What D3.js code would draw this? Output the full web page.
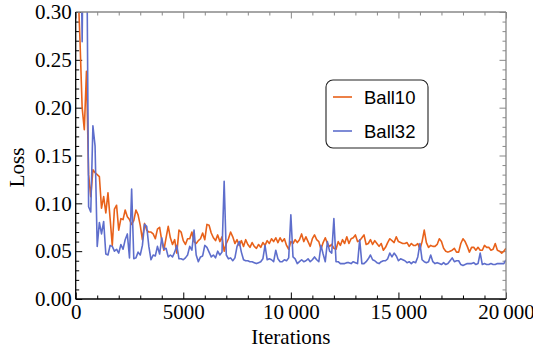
<!DOCTYPE html>
<html>
<head>
<meta charset="utf-8">
<script src="https://cdn.jsdelivr.net/npm/d3@7"></script>
<style>
  body { margin: 0; background: #fff; }
  svg { display: block; }
</style>
</head>
<body>
<div id="chart"></div>
<script>
// iterations between two samples of the loss curves
const step = 100;

const seriesNames = ['Ball10', 'Ball32'];

// loss values, one every `step` iterations
const ball10 = [
  0.45, 0.33, 0.27, 0.20, 0.177, 0.238, 0.13, 0.107, 0.135, 0.132,
  0.130, 0.128, 0.095, 0.107, 0.090, 0.111, 0.084, 0.056, 0.094, 0.098,
  0.072, 0.084, 0.083, 0.093, 0.086, 0.083, 0.078, 0.082, 0.093, 0.088,
  0.077, 0.062, 0.079, 0.072, 0.070, 0.070, 0.068, 0.063, 0.073, 0.075,
  0.061, 0.051, 0.064, 0.076, 0.064, 0.057, 0.062, 0.048, 0.072, 0.070,
  0.061, 0.057, 0.063, 0.063, 0.070, 0.060, 0.058, 0.061, 0.063, 0.069,
  0.062, 0.078, 0.077, 0.069, 0.064, 0.061, 0.067, 0.060, 0.065, 0.050,
  0.058, 0.063, 0.070, 0.065, 0.058, 0.062, 0.056, 0.061, 0.055, 0.062,
  0.057, 0.054, 0.059, 0.055, 0.053, 0.057, 0.054, 0.059, 0.056, 0.061,
  0.058, 0.063, 0.060, 0.064, 0.059, 0.064, 0.060, 0.063, 0.056, 0.052,
  0.060, 0.058, 0.062, 0.059, 0.062, 0.068, 0.060, 0.065, 0.060, 0.055,
  0.063, 0.067, 0.062, 0.060, 0.052, 0.059, 0.064, 0.058, 0.055, 0.057,
  0.053, 0.052, 0.060, 0.056, 0.062, 0.058, 0.065, 0.058, 0.063, 0.064,
  0.067, 0.060, 0.061, 0.064, 0.067, 0.057, 0.058, 0.062, 0.057, 0.061,
  0.058, 0.055, 0.058, 0.051, 0.054, 0.059, 0.063, 0.061, 0.059, 0.065,
  0.060, 0.059, 0.058, 0.058, 0.059, 0.055, 0.058, 0.056, 0.056, 0.058,
  0.052, 0.060, 0.072, 0.059, 0.054, 0.056, 0.055, 0.055, 0.057, 0.063,
  0.060, 0.053, 0.050, 0.049, 0.050, 0.051, 0.053, 0.049, 0.049, 0.058,
  0.063, 0.060, 0.055, 0.049, 0.054, 0.054, 0.051, 0.054, 0.051, 0.051,
  0.056, 0.054, 0.054, 0.051, 0.052, 0.058, 0.051, 0.050, 0.048, 0.050,
  0.053
];

const ball32 = [
  0.50, 0.42, 0.45, 0.269, 0.50, 0.42, 0.0965, 0.091, 0.181, 0.160,
  0.055, 0.080, 0.068, 0.081, 0.047, 0.046, 0.056, 0.055, 0.050, 0.052,
  0.048, 0.057, 0.052, 0.062, 0.068, 0.043, 0.115, 0.042, 0.043, 0.049,
  0.046, 0.056, 0.078, 0.076, 0.055, 0.041, 0.046, 0.045, 0.055, 0.047,
  0.064, 0.052, 0.053, 0.044, 0.046, 0.044, 0.049, 0.056, 0.042, 0.042,
  0.041, 0.043, 0.046, 0.055, 0.051, 0.072, 0.046, 0.039, 0.044, 0.045,
  0.056, 0.054, 0.049, 0.044, 0.046, 0.043, 0.050, 0.046, 0.049, 0.123,
  0.046, 0.042, 0.043, 0.040, 0.043, 0.055, 0.060, 0.049, 0.041, 0.040,
  0.040, 0.039, 0.039, 0.038, 0.037, 0.038, 0.039, 0.042, 0.056, 0.041,
  0.042, 0.041, 0.039, 0.051, 0.042, 0.039, 0.039, 0.041, 0.040, 0.043,
  0.088, 0.044, 0.042, 0.037, 0.039, 0.041, 0.039, 0.040, 0.042, 0.039,
  0.041, 0.044, 0.041, 0.039, 0.056, 0.047, 0.039, 0.060, 0.050, 0.048,
  0.084, 0.039, 0.039, 0.037, 0.037, 0.037, 0.038, 0.038, 0.037, 0.039,
  0.038, 0.037, 0.062, 0.037, 0.037, 0.039, 0.042, 0.046, 0.041, 0.040,
  0.038, 0.037, 0.039, 0.040, 0.040, 0.042, 0.048, 0.044, 0.048, 0.045,
  0.040, 0.042, 0.041, 0.040, 0.038, 0.039, 0.037, 0.039, 0.038, 0.044,
  0.058, 0.041, 0.039, 0.038, 0.039, 0.046, 0.039, 0.037, 0.038, 0.037,
  0.036, 0.038, 0.036, 0.037, 0.040, 0.043, 0.039, 0.040, 0.040, 0.036,
  0.035, 0.036, 0.037, 0.037, 0.037, 0.038, 0.036, 0.037, 0.048, 0.036,
  0.037, 0.036, 0.036, 0.037, 0.036, 0.036, 0.037, 0.037, 0.037, 0.037,
  0.041
];

const xTicks = [0, 5000, 10000, 15000, 20000];
const yTicks = [0, 0.05, 0.10, 0.15, 0.20, 0.25, 0.30];
const xMinorStep = 1000;
const yMinorStep = 0.01;

const xLabel = 'Iterations';
const yLabel = 'Loss';

const width = 533, height = 349;
const margin = {top: 12, right: 27, bottom: 50, left: 75.7};
const colors = ['#E8611A', '#5E6ECC'];
const serif = '"Liberation Serif", "Times New Roman", serif';

const svg = d3.select('#chart').append('svg')
  .attr('width', width)
  .attr('height', height);

const x = d3.scaleLinear()
  .domain([0, 20000])
  .range([margin.left, width - margin.right]);

const y = d3.scaleLinear()
  .domain([0, 0.3])
  .range([height - margin.bottom, margin.top]);

const xMinor = d3.range(0, 20000 + 1, xMinorStep).filter(v => !xTicks.includes(v));
const yMinor = d3.range(0, 30 + 1).map(k => k * yMinorStep).filter((v, k) => k % 5 !== 0);

function fmtX(v) {
  // Mathematica puts a thin gap in 5-digit numbers
  const s = String(v);
  return v >= 10000 ? s.slice(0, s.length - 3) + '\u2009' + s.slice(-3) : s;
}

// ---- ticks, all four sides, pointing in
function tickAxis(axis, cls, pos, color) {
  const g = svg.append('g').attr('class', cls).attr('transform', pos).call(axis);
  g.select('.domain').remove();
  g.selectAll('.tick line').attr('stroke', color).attr('stroke-width', 1);
  g.selectAll('text').attr('fill', '#000').style('font-family', serif).style('font-size', '21px');
  return g;
}

const yBot = height - margin.bottom, xRight = width - margin.right;

tickAxis(d3.axisBottom(x).tickValues(xTicks).tickSize(-6.5).tickPadding(5).tickFormat(fmtX),
  'x-major', `translate(0,${yBot})`, '#000');
tickAxis(d3.axisBottom(x).tickValues(xMinor).tickSize(-3.5).tickFormat(''),
  'x-minor', `translate(0,${yBot})`, '#000');
tickAxis(d3.axisTop(x).tickValues(xTicks).tickSize(-6.5).tickFormat(''),
  'x-top', `translate(0,${margin.top})`, '#888');
tickAxis(d3.axisTop(x).tickValues(xMinor).tickSize(-3.5).tickFormat(''),
  'x-top-minor', `translate(0,${margin.top})`, '#888');

tickAxis(d3.axisLeft(y).tickValues(yTicks).tickSize(-6.5).tickPadding(4).tickFormat(d3.format('.2f')),
  'y-major', `translate(${margin.left},0)`, '#000');
tickAxis(d3.axisLeft(y).tickValues(yMinor).tickSize(-3.5).tickFormat(''),
  'y-minor', `translate(${margin.left},0)`, '#000');
tickAxis(d3.axisRight(y).tickValues(yTicks).tickSize(-6.5).tickFormat(''),
  'y-right', `translate(${xRight},0)`, '#888');
tickAxis(d3.axisRight(y).tickValues(yMinor).tickSize(-3.5).tickFormat(''),
  'y-right-minor', `translate(${xRight},0)`, '#888');

// ---- the curves, clipped to the frame
svg.append('clipPath').attr('id', 'plot-clip')
  .append('rect')
  .attr('x', margin.left).attr('y', margin.top)
  .attr('width', xRight - margin.left)
  .attr('height', yBot - margin.top);

const line = d3.line()
  .x((d, i) => x(i * step))
  .y(d => y(d));

svg.append('g')
  .attr('clip-path', 'url(#plot-clip)')
  .selectAll('path')
  .data([ball10, ball32])
  .enter()
  .append('path')
  .attr('d', line)
  .attr('fill', 'none')
  .attr('stroke', (d, i) => colors[i])
  .attr('stroke-width', 1.6)
  .attr('stroke-linejoin', 'round');

// ---- frame: black left/bottom, grey top/right
const frame = svg.append('g').attr('class', 'frame');
frame.append('line').attr('x1', margin.left).attr('x2', xRight).attr('y1', margin.top).attr('y2', margin.top)
  .attr('stroke', '#888').attr('stroke-width', 1.3);
frame.append('line').attr('x1', xRight).attr('x2', xRight).attr('y1', margin.top).attr('y2', yBot)
  .attr('stroke', '#888').attr('stroke-width', 1.3);
frame.append('line').attr('x1', margin.left).attr('x2', xRight).attr('y1', yBot).attr('y2', yBot)
  .attr('stroke', '#000').attr('stroke-width', 1.3);
frame.append('line').attr('x1', margin.left).attr('x2', margin.left).attr('y1', margin.top).attr('y2', yBot)
  .attr('stroke', '#000').attr('stroke-width', 1.3);

// ---- axis titles
svg.append('text')
  .attr('x', (margin.left + xRight) / 2)
  .attr('y', 344)
  .attr('text-anchor', 'middle')
  .style('font-family', serif).style('font-size', '21px')
  .text(xLabel);

svg.append('text')
  .attr('transform', `translate(24,${(margin.top + yBot) / 2 + 12}) rotate(-90)`)
  .attr('text-anchor', 'middle')
  .style('font-family', serif).style('font-size', '21px')
  .text(yLabel);

// ---- legend
const legend = svg.append('g').attr('class', 'legend');
legend.append('rect')
  .attr('x', 326).attr('y', 80)
  .attr('width', 102).attr('height', 68)
  .attr('rx', 7)
  .attr('fill', '#fff')
  .attr('stroke', '#222')
  .attr('stroke-width', 1.1);

const item = legend.selectAll('.item')
  .data(seriesNames)
  .enter()
  .append('g')
  .attr('class', 'item')
  .attr('transform', (d, i) => `translate(0,${97 + i * 34})`);

item.append('line')
  .attr('x1', 333).attr('x2', 352)
  .attr('stroke', (d, i) => colors[i])
  .attr('stroke-width', 1.6);

item.append('text')
  .attr('x', 364)
  .attr('y', 6.6)
  .style('font-family', '"Liberation Sans", Arial, sans-serif')
  .style('font-size', '18.5px')
  .text(d => d);
</script>
</body>
</html>
